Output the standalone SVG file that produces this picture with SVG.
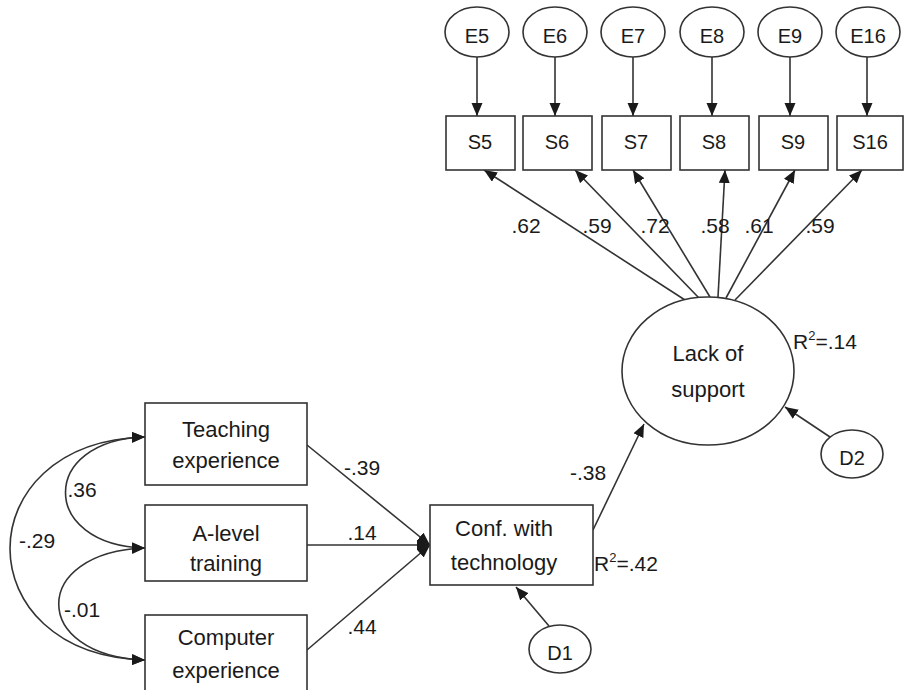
<svg xmlns="http://www.w3.org/2000/svg" width="905" height="690" viewBox="0 0 905 690">
  <defs>
    <marker id="arrow" markerUnits="userSpaceOnUse" markerWidth="14" markerHeight="12" refX="13" refY="5.5" orient="auto-start-reverse">
      <path d="M0,0 L13,5.5 L0,11 z" fill="#1a1a1a"/>
    </marker>
    <style>
      .shape { fill: #ffffff; stroke: #333333; stroke-width: 1.6; }
      .edge { fill: none; stroke: #333333; stroke-width: 1.6; marker-end: url(#arrow); }
      .cov { fill: none; stroke: #333333; stroke-width: 1.6; marker-start: url(#arrow); marker-end: url(#arrow); }
      .lbl { font-family: "Liberation Sans", Arial, sans-serif; font-size: 22px; fill: #1a1a1a; text-anchor: middle; }
      .sm { font-family: "Liberation Sans", Arial, sans-serif; font-size: 20px; fill: #1a1a1a; text-anchor: middle; }
      .num { font-family: "Liberation Sans", Arial, sans-serif; font-size: 21px; fill: #1a1a1a; text-anchor: middle; }
      .r2 { font-family: "Liberation Sans", Arial, sans-serif; font-size: 21px; fill: #1a1a1a; }
    </style>
  </defs>
  <rect width="905" height="690" fill="#ffffff"/>

  <!-- connectors -->
  <g id="connectors">
    <!-- error terms to indicators -->
    <line class="edge" x1="477" y1="57" x2="477" y2="116"/>
    <line class="edge" x1="555" y1="57" x2="555" y2="116"/>
    <line class="edge" x1="633" y1="57" x2="633" y2="116"/>
    <line class="edge" x1="712" y1="57" x2="712" y2="116"/>
    <line class="edge" x1="790" y1="57" x2="790" y2="116"/>
    <line class="edge" x1="867" y1="57" x2="867" y2="116"/>
    <!-- loadings from Lack of support -->
    <line class="edge" x1="685" y1="300" x2="484" y2="170"/>
    <line class="edge" x1="699" y1="298" x2="575" y2="170"/>
    <line class="edge" x1="710" y1="297" x2="633" y2="170"/>
    <line class="edge" x1="718" y1="297" x2="725" y2="170"/>
    <line class="edge" x1="726" y1="298" x2="795" y2="170"/>
    <line class="edge" x1="735" y1="300" x2="862" y2="170"/>
    <!-- predictors to Conf. with technology -->
    <line class="edge" x1="307" y1="445" x2="430" y2="545"/>
    <line class="edge" x1="307" y1="545" x2="430" y2="545"/>
    <line class="edge" x1="307" y1="650" x2="430" y2="545"/>
    <!-- structural path and disturbances -->
    <line class="edge" x1="593" y1="530" x2="644" y2="424"/>
    <line class="edge" x1="549" y1="626" x2="516" y2="587"/>
    <line class="edge" x1="830" y1="437" x2="785" y2="407"/>
    <!-- covariances -->
    <path class="cov" d="M145,437 C-35,442 -35,655 145,660"/>
    <path class="cov" d="M145,437 C39,440 39,545 145,548"/>
    <path class="cov" d="M145,548 C30,552 30,656 145,660"/>

    <!-- path coefficients -->
    <text class="num" x="526" y="233">.62</text>
    <text class="num" x="597" y="233">.59</text>
    <text class="num" x="655" y="233">.72</text>
    <text class="num" x="715" y="233">.58</text>
    <text class="num" x="759" y="233">.61</text>
    <text class="num" x="820" y="233">.59</text>
    <text class="num" x="362" y="475">-.39</text>
    <text class="num" x="362" y="540">.14</text>
    <text class="num" x="362" y="634">.44</text>
    <text class="num" x="588" y="480">-.38</text>
    <text class="num" x="82" y="497">.36</text>
    <text class="num" x="37" y="548">-.29</text>
    <text class="num" x="82" y="617">-.01</text>
  </g>

  <!-- error terms -->
  <g id="E5"><ellipse class="shape" cx="477" cy="32" rx="32" ry="25"/><text class="sm" x="477" y="43">E5</text></g>
  <g id="E6"><ellipse class="shape" cx="555" cy="32" rx="32" ry="25"/><text class="sm" x="555" y="43">E6</text></g>
  <g id="E7"><ellipse class="shape" cx="633" cy="32" rx="32" ry="25"/><text class="sm" x="633" y="43">E7</text></g>
  <g id="E8"><ellipse class="shape" cx="712" cy="32" rx="32" ry="25"/><text class="sm" x="712" y="43">E8</text></g>
  <g id="E9"><ellipse class="shape" cx="790" cy="32" rx="32" ry="25"/><text class="sm" x="790" y="43">E9</text></g>
  <g id="E16"><ellipse class="shape" cx="868" cy="32" rx="32" ry="25"/><text class="sm" x="868" y="43">E16</text></g>

  <!-- indicators -->
  <g id="S5"><rect class="shape" x="446" y="116" width="69" height="54"/><text class="sm" x="480" y="149">S5</text></g>
  <g id="S6"><rect class="shape" x="523" y="116" width="69" height="54"/><text class="sm" x="557" y="149">S6</text></g>
  <g id="S7"><rect class="shape" x="602" y="116" width="69" height="54"/><text class="sm" x="636" y="149">S7</text></g>
  <g id="S8"><rect class="shape" x="680" y="116" width="69" height="54"/><text class="sm" x="714" y="149">S8</text></g>
  <g id="S9"><rect class="shape" x="759" y="116" width="69" height="54"/><text class="sm" x="793" y="149">S9</text></g>
  <g id="S16"><rect class="shape" x="837" y="116" width="66" height="54"/><text class="sm" x="870" y="149">S16</text></g>

  <!-- latent factor -->
  <g id="lack-of-support">
    <ellipse class="shape" cx="708" cy="371" rx="86" ry="74"/>
    <text class="lbl" x="708" y="361">Lack of</text>
    <text class="lbl" x="708" y="397">support</text>
    <text class="r2" x="793" y="349">R<tspan font-size="13" dy="-9">2</tspan><tspan dy="9">=.14</tspan></text>
  </g>
  <g id="D2"><ellipse class="shape" cx="852" cy="454" rx="31" ry="24"/><text class="sm" x="852" y="465">D2</text></g>

  <!-- exogenous predictors -->
  <g id="teaching-experience">
    <rect class="shape" x="145" y="403" width="162" height="82"/>
    <text class="lbl" x="226" y="437">Teaching</text>
    <text class="lbl" x="226" y="468">experience</text>
  </g>
  <g id="a-level-training">
    <rect class="shape" x="145" y="505" width="162" height="76"/>
    <text class="lbl" x="226" y="541">A-level</text>
    <text class="lbl" x="226" y="571">training</text>
  </g>
  <g id="computer-experience">
    <rect class="shape" x="145" y="615" width="162" height="82"/>
    <text class="lbl" x="226" y="645">Computer</text>
    <text class="lbl" x="226" y="678">experience</text>
  </g>

  <!-- mediator -->
  <g id="conf-with-technology">
    <rect class="shape" x="430" y="505" width="163" height="80"/>
    <text class="lbl" x="504" y="536">Conf. with</text>
    <text class="lbl" x="504" y="570">technology</text>
    <text class="r2" x="594" y="571">R<tspan font-size="13" dy="-9">2</tspan><tspan dy="9">=.42</tspan></text>
  </g>
  <g id="D1"><ellipse class="shape" cx="560" cy="649" rx="31" ry="24"/><text class="sm" x="560" y="660">D1</text></g>
</svg>
